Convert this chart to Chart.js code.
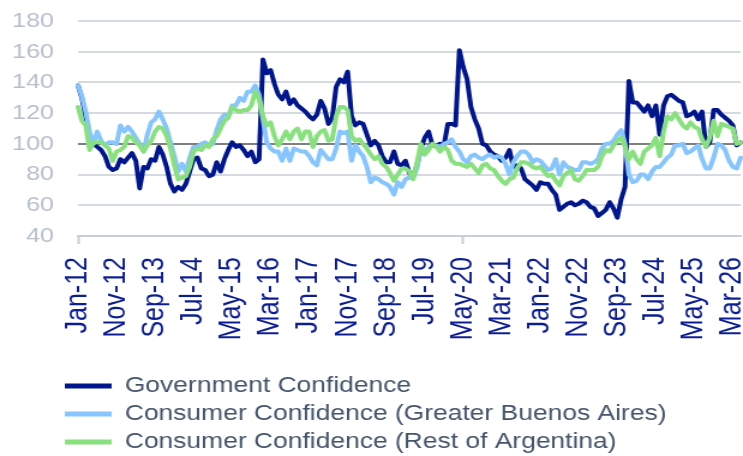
<!DOCTYPE html>
<html><head><meta charset="utf-8">
<script src="https://cdn.jsdelivr.net/npm/chart.js@4"></script>
<style>
html,body{margin:0;padding:0;background:#fff;overflow:hidden;}
#wrap{position:absolute;left:0;top:0;width:619px;height:456px;transform:scaleX(1.2003);transform-origin:0 0;}
</style></head><body>
<div id="wrap"><canvas id="c"></canvas></div>
<script>
const monthNames = ['Jan','Feb','Mar','Apr','May','Jun','Jul','Aug','Sep','Oct','Nov','Dec'];
const startYear = 2012;
const nMonths = 173;
const categories = [];
for (let i = 0; i < nMonths; i++) {
  categories.push(monthNames[i % 12] + '-' + String((startYear + Math.floor(i / 12)) % 100).padStart(2, '0'));
}
const tickLabels = ['Jan-12','Nov-12','Sep-13','Jul-14','May-15','Mar-16','Jan-17','Nov-17','Sep-18','Jul-19','May-20','Mar-21','Jan-22','Nov-22','Sep-23','Jul-24','May-25','Mar-26'];
const yTicks = [40, 60, 80, 100, 120, 140, 160, 180];

const govConfidence = [
  138,130,118,104,100,98,96,92,85,83,
  84,90,88,91,94,89,71,85,84,90,
  89,98,93,85,74,69,72,70,74,82,
  90,91,84,83,79,80,88,82,90,96,
  101,98,99,96,92,95,88,90,155,146,
  148,139,132,129,134,126,129,125,123,121,
  118,116,119,128,123,113,117,137,142,140,
  147,118,112,114,113,106,99,102,99,92,
  88,88,95,87,86,89,81,79,86,97,
  104,108,99,99,100,99,113,113,112,161,
  150,142,124,116,110,100,99,95,93,92,
  89,91,96,85,86,84,77,75,73,70,
  75,74,74,70,67,57,59,61,62,60,
  61,63,62,59,58,53,55,57,62,58,
  52,64,72,141,127,127,124,121,125,118,
  125,106,125,131,132,130,128,127,118,119,
  121,116,121,98,101,122,122,119,117,115,
  112,99,101
];
const gbaConfidence = [
  138,131,121,108,100,108,102,99,101,101,
  100,112,108,111,108,104,100,95,106,114,
  116,121,116,110,101,92,82,87,82,91,
  98,98,100,101,99,100,109,116,119,118,
  125,125,130,128,134,134,138,132,116,101,
  97,95,95,89,97,89,97,96,95,95,
  92,88,86,96,93,90,90,97,108,107,
  108,89,99,95,92,85,75,78,77,75,
  74,72,67,75,72,77,78,78,84,97,
  95,98,99,99,98,100,101,103,98,95,
  90,88,92,93,91,90,92,93,91,92,
  91,87,80,88,92,95,95,93,88,90,
  89,86,83,84,90,80,88,85,84,83,
  83,88,88,87,88,90,97,100,100,102,
  106,109,100,80,75,76,80,80,77,82,
  85,85,88,91,93,99,99,100,94,95,
  97,99,90,84,84,91,100,99,96,89,
  85,84,91
];
const restConfidence = [
  124,115,112,96,101,101,101,99,97,89,
  95,96,98,105,104,101,99,95,99,102,
  108,111,110,105,97,86,77,78,79,85,
  95,97,96,99,98,103,105,110,115,117,
  124,122,121,122,122,125,134,129,118,112,
  114,105,99,103,108,103,108,110,103,108,
  108,98,105,108,109,102,103,118,124,124,
  122,105,102,103,100,97,93,90,92,87,
  85,81,76,80,84,84,82,77,88,100,
  93,96,100,98,95,98,96,89,87,87,
  86,85,87,84,81,86,87,84,83,79,
  76,74,77,78,84,88,88,87,85,84,
  85,82,79,80,76,73,79,81,83,77,
  76,79,83,83,83,85,92,96,95,99,
  102,104,98,90,95,90,87,95,97,99,
  104,92,108,118,116,120,116,112,110,114,
  111,110,103,98,104,115,105,113,112,111,
  110,100,101
];

const FONT = "'Liberation Sans', Arial, sans-serif";
const isTick = i => tickLabels.includes(categories[i]);

const legendShift = {
  id: 'legendShift',
  afterLayout(chart) { if (chart.legend) { chart.legend.left = 48; } }
};

new Chart(document.getElementById('c'), {
  type: 'line',
  data: {
    labels: categories,
    datasets: [
      {label: 'Government Confidence', data: govConfidence, borderColor: '#00168C', backgroundColor: '#00168C', order: 3},
      {label: 'Consumer Confidence (Greater Buenos Aires)', data: gbaConfidence, borderColor: '#86C5FD', backgroundColor: '#86C5FD', order: 2},
      {label: 'Consumer Confidence (Rest of Argentina)', data: restConfidence, borderColor: '#88E07F', backgroundColor: '#88E07F', order: 1}
    ]
  },
  plugins: [legendShift],
  options: {
    responsive: true,
    maintainAspectRatio: false,
    animation: false,
    layout: {padding: {left: 0, right: 1, top: 21, bottom: -7}},
    elements: {
      line: {borderWidth: 4, tension: 0, borderJoinStyle: 'round', borderCapStyle: 'round', fill: false},
      point: {radius: 0, hoverRadius: 0}
    },
    plugins: {
      tooltip: {enabled: false},
      legend: {
        position: 'bottom',
        align: 'start',
        labels: {
          font: {family: FONT, size: 22},
          color: '#44546A',
          boxWidth: 39,
          boxHeight: 5,
          padding: 6,
          useBorderRadius: true,
          borderRadius: 2.5,
          generateLabels: chart => chart.data.datasets.map((d, i) => ({
            text: d.label, fillStyle: d.borderColor, strokeStyle: d.borderColor,
            lineWidth: 0, fontColor: '#44546A', datasetIndex: i, hidden: false
          }))
        }
      }
    },
    scales: {
      x: {
        grid: {
          drawOnChartArea: false, drawTicks: true, tickLength: 8, tickWidth: 2,
          tickColor: ctx => isTick(ctx.index) ? '#C9CED6' : 'rgba(0,0,0,0)'
        },
        border: {color: '#C9CED6', width: 2},
        ticks: {
          autoSkip: false, maxRotation: 90, minRotation: 90, padding: 13,
          color: '#0B1D91', font: {family: FONT, size: 25},
          callback: (v, i) => isTick(i) ? categories[i] : null
        },
        afterFit: s => { s.height = 133; s.paddingLeft = 0; s.paddingRight = 0; }
      },
      y: {
        min: 40, max: 180,
        afterBuildTicks: s => { s.ticks = yTicks.map(v => ({value: v})); },
        grid: {
          drawTicks: false, lineWidth: 2,
          color: ctx => (ctx.tick && ctx.tick.value === 100) ? '#808080' : '#D5D9E0'
        },
        border: {display: false},
        ticks: {padding: 20, color: '#B7BFCA', font: {family: FONT, size: 21}},
        afterFit: s => { s.width = 65; s.paddingTop = 0; s.paddingBottom = 0; }
      }
    }
  }
});
</script>
</body></html>
